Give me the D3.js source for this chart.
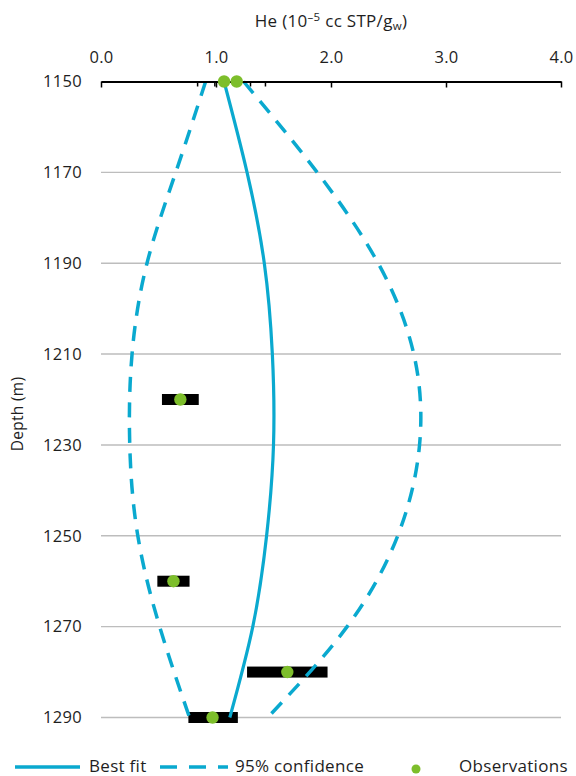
<!DOCTYPE html>
<html>
<head>
<meta charset="utf-8">
<script src="https://cdnjs.cloudflare.com/ajax/libs/d3/7.8.5/d3.min.js"></script>
<style>
  html, body { margin: 0; padding: 0; background: #fff; }
  svg { display: block; }
  text { font-family: "Open Sans", "Noto Sans", sans-serif; fill: #1e1e1e; letter-spacing: 0.3px; }
</style>
</head>
<body>
<div id="chart"></div>
<script>
// Axis ticks
const heTicks = [0, 1, 2, 3, 4];
const depthTicks = [1150, 1170, 1190, 1210, 1230, 1250, 1270, 1290];

// Model profile: depth (m) with best fit and 95% confidence envelope (10^-5 cc STP/g)
const profileDepth = [1150, 1170, 1190, 1210, 1230, 1250, 1270, 1290];
const bestFit = [1.07, 1.27, 1.42, 1.49, 1.50, 1.44, 1.32, 1.12];
const lower95 = [0.91, 0.65, 0.40, 0.27, 0.25, 0.32, 0.51, 0.77];
const upper95 = [1.24, 1.88, 2.41, 2.72, 2.77, 2.58, 2.14, 1.45];

// Measured samples with their uncertainty range
const obsDepth = [1150, 1150, 1220, 1260, 1280, 1290];
const obsHe = [1.07, 1.18, 0.69, 0.63, 1.62, 0.97];
const obsLow = [0.84, 0.99, 0.53, 0.49, 1.27, 0.76];
const obsHigh = [1.30, 1.43, 0.85, 0.77, 1.97, 1.19];

const W = 576, H = 776;
const blue = "#0AA9CF", green = "#7DBE2B";
const fs = 16.5;

const svg = d3.select("#chart").append("svg").attr("width", W).attr("height", H);

const x = d3.scaleLinear().domain([0, 4]).range([101, 561]);
const y = d3.scaleLinear().domain([1150, 1290]).range([81.5, 717.5]);

// Horizontal gridlines
svg.append("g").selectAll("line")
  .data(depthTicks.slice(1))
  .join("line")
  .attr("x1", x(0)).attr("x2", x(4))
  .attr("y1", d => y(d)).attr("y2", d => y(d))
  .attr("stroke", "#BDBDBD").attr("stroke-width", 1.4);

// Depth labels
const yAxis = svg.append("g")
  .attr("transform", `translate(${x(0) - 19},0)`)
  .call(d3.axisLeft(y).tickValues(depthTicks).tickSize(0).tickPadding(0).tickFormat(d3.format("d")));
yAxis.select(".domain").remove();
yAxis.selectAll("text").attr("font-size", fs).attr("font-family", "Open Sans").attr("fill", "#1e1e1e");

// Observation uncertainty bars
const obs = obsDepth.map((d, i) => ({ depth: d, he: obsHe[i], lo: obsLow[i], hi: obsHigh[i] }));
svg.append("g").selectAll("rect")
  .data(obs.filter(d => d.depth > 1150))
  .join("rect")
  .attr("x", d => x(d.lo)).attr("width", d => x(d.hi) - x(d.lo))
  .attr("y", d => y(d.depth) - 5.5).attr("height", 11)
  .attr("fill", "#000");
// Bars at the top of the section sit on the axis; only their end caps show
const capG = svg.append("g");
obs.filter(d => d.depth === 1150).forEach(d => {
  [d.lo, d.hi].forEach(v => {
    capG.append("line")
      .attr("x1", x(v)).attr("x2", x(v))
      .attr("y1", y(d.depth)).attr("y2", y(d.depth) + 5)
      .attr("stroke", "#000").attr("stroke-width", 1.5);
  });
});

// Profile curves
const rows = profileDepth.map((d, i) => ({ depth: d, fit: bestFit[i], lo: lower95[i], hi: upper95[i] }));
const lineFor = key => d3.line()
  .x(d => x(d[key])).y(d => y(d.depth))
  .curve(d3.curveNatural);

svg.append("path").datum(rows).attr("d", lineFor("lo"))
  .attr("fill", "none").attr("stroke", blue).attr("stroke-width", 3.5)
  .attr("stroke-dasharray", "15,10.5");
svg.append("path").datum(rows).attr("d", lineFor("hi"))
  .attr("fill", "none").attr("stroke", blue).attr("stroke-width", 3.5)
  .attr("stroke-dasharray", "15,10.5");
svg.append("path").datum(rows).attr("d", lineFor("fit"))
  .attr("fill", "none").attr("stroke", blue).attr("stroke-width", 3.2);

// Top He axis
const xAxis = svg.append("g")
  .attr("transform", `translate(0,${y(1150)})`)
  .call(d3.axisTop(x).tickValues(heTicks).tickSizeInner(-6).tickSizeOuter(0).tickPadding(19)
    .tickFormat(d3.format(".1f")));
xAxis.select(".domain").attr("stroke", "#000").attr("stroke-width", 2);
xAxis.selectAll(".tick line").attr("stroke", "#000").attr("stroke-width", 1.5);
xAxis.selectAll("text").attr("font-size", fs).attr("font-family", "Open Sans").attr("fill", "#1e1e1e");

// Observation points
svg.append("g").selectAll("circle")
  .data(obs)
  .join("circle")
  .attr("cx", d => x(d.he)).attr("cy", d => y(d.depth))
  .attr("r", 6.2).attr("fill", green);

// Axis titles
const title = svg.append("text")
  .attr("x", x(2)).attr("y", 27)
  .attr("text-anchor", "middle").attr("font-size", 17);
title.append("tspan").text("He (10");
title.append("tspan").attr("font-size", 11.5).attr("dy", -6).text("\u20135");
title.append("tspan").attr("dy", 6).text(" cc STP/g");
title.append("tspan").attr("font-size", 11.5).attr("dy", 3).text("w");
title.append("tspan").attr("dy", -3).text(")");

svg.append("text")
  .attr("transform", `translate(23,414) rotate(-90)`)
  .attr("text-anchor", "middle").attr("font-size", 15.5)
  .text("Depth (m)");

// Legend
const lg = svg.append("g");
const ly = 767;
lg.append("line").attr("x1", 15).attr("x2", 80).attr("y1", ly).attr("y2", ly)
  .attr("stroke", blue).attr("stroke-width", 3.5);
lg.append("text").attr("x", 89).attr("y", 772).attr("font-size", 17).text("Best fit");
lg.append("line").attr("x1", 160).attr("x2", 228).attr("y1", ly).attr("y2", ly)
  .attr("stroke", blue).attr("stroke-width", 3.5).attr("stroke-dasharray", "17,12");
lg.append("text").attr("x", 235).attr("y", 772).attr("font-size", 17).text("95% confidence");
lg.append("circle").attr("cx", 416).attr("cy", 769).attr("r", 4.5).attr("fill", green);
lg.append("text").attr("x", 459).attr("y", 772).attr("font-size", 17).text("Observations");
</script>
</body>
</html>
